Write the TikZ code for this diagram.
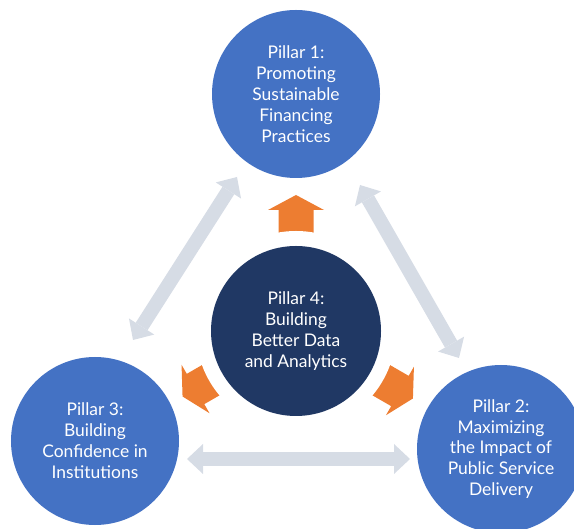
\documentclass[tikz,border=0pt]{standalone}
\usepackage{fontspec}
\setmainfont{Lato}
\usetikzlibrary{arrows.meta,calc}
\pgfdeclarelayer{background}
\pgfsetlayers{background,main}
\definecolor{pblue}{HTML}{4472C4}
\definecolor{pnavy}{HTML}{203864}
\definecolor{porange}{HTML}{ED7D31}
\definecolor{pgray}{HTML}{D6DCE5}
\begin{document}
\begin{tikzpicture}[x=1bp,y=1bp,
  pillar/.style={circle, fill=pblue, minimum size=168bp, inner sep=0pt, text=white,
    align=center, font=\fontsize{17.5}{21}\selectfont},
  core/.style={pillar, fill=pnavy, minimum size=170bp},
  gtip/.tip={Triangle[width=30bp,length=16bp,line width=0pt]},
  link/.style={draw=pgray, line width=14bp, gtip-gtip},
  boost/.style={fill=porange}]
\useasboundingbox (0,0) rectangle (574,529);
\clip (0,0) rectangle (574,529);
\node[pillar] (p1) at (296,435) {Pillar 1:\\Promoting\\Sustainable\\Financing\\Practices};
\node[pillar] (p2) at (501,80) {Pillar 2:\\Maximizing\\the Impact of\\Public Service\\Delivery};
\node[pillar] (p3) at (95,88) {Pillar 3:\\Building\\Confidence in\\Institutions};
\node[core] (p4) at (296,198) {Pillar 4:\\Building\\Better Data\\and Analytics};
\coordinate (a13) at (237,352);
\coordinate (a31) at (133,189);
\coordinate (a12) at (360,344);
\coordinate (a21) at (459,171);
\coordinate (a32) at (187,70);
\coordinate (a23) at (410,70);
\begin{pgfonlayer}{background}
  \draw[link] (a13) -- (a31);
  \draw[link] (a12) -- (a21);
  \draw[link] (a32) -- (a23);
  \foreach \ang/\d in {0/136,120/131,-120/135}{
    \begin{scope}[shift={(p4.center)}, rotate=\ang]
      \fill[boost] (-17.5,80) -- (-17.5,\d-15) -- (-28,\d-15) -- (0,\d)
        -- (28,\d-15) -- (17.5,\d-15) -- (17.5,80) -- cycle;
    \end{scope}
  }
  \fill[white] (p4.center) circle[radius=100bp];
\end{pgfonlayer}
\end{tikzpicture}
\end{document}
